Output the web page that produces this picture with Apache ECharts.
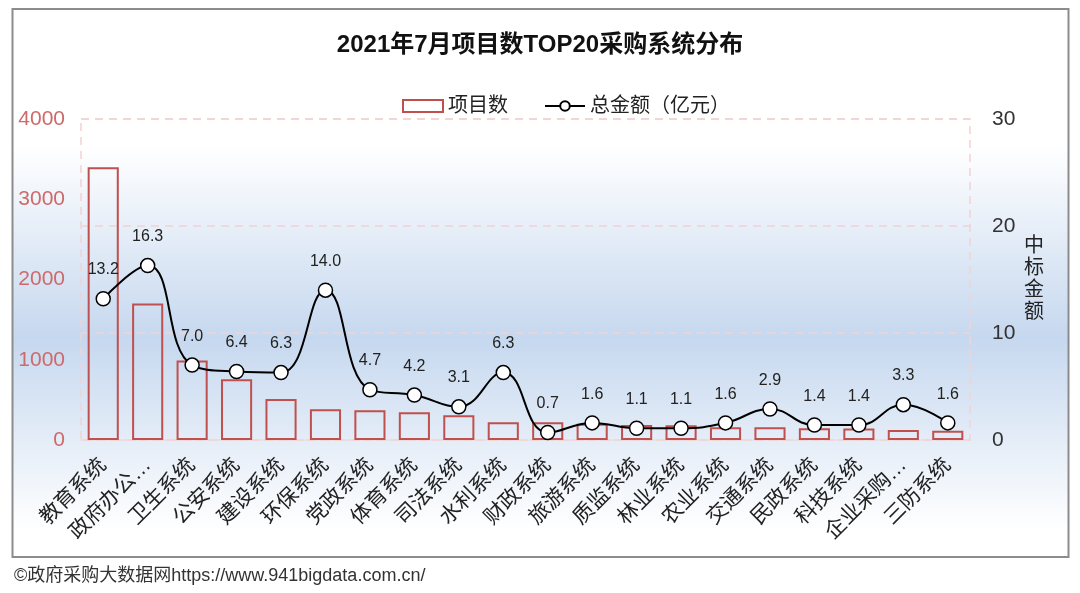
<!DOCTYPE html>
<html>
<head>
<meta charset="utf-8">
<script src="https://cdn.jsdelivr.net/npm/echarts@6/dist/echarts.min.js"></script>
<style>
  html, body { margin: 0; padding: 0; background: #fff; }
  #chart_one { width: 1080px; height: 593px; }
</style>
</head>
<body>
<div id="chart_one"></div>
<script>
var systems = ['教育系统', '政府办公…', '卫生系统', '公安系统', '建设系统', '环保系统', '党政系统', '体育系统', '司法系统', '水利系统',
  '财政系统', '旅游系统', '质监系统', '林业系统', '农业系统', '交通系统', '民政系统', '科技系统', '企业采购…', '三防系统'];
var projectCount = [3400, 1700, 990, 756, 511, 383, 370, 345, 308, 220, 220, 203, 186, 185, 158, 158, 145, 142, 125, 116];
var totalAmount = [13.2, 16.3, 7.0, 6.4, 6.3, 14.0, 4.7, 4.2, 3.1, 6.3, 0.7, 1.6, 1.1, 1.1, 1.6, 2.9, 1.4, 1.4, 3.3, 1.6];

var fontFam = "'Liberation Sans', 'Noto Sans CJK SC', sans-serif";
var theDom = document.getElementById('chart_one');
var myChart = echarts.init(theDom);
var option;

option = {
    backgroundColor: '#fff',
    textStyle: { fontFamily: fontFam },
    animation: false,
    title: {
        text: '2021年7月项目数TOP20采购系统分布',
        left: 'center',
        top: 28,
        textStyle: { fontSize: 24, fontWeight: 'bold', color: '#111', fontFamily: fontFam }
    },
    // frame + soft blue band behind the plot
    graphic: [
        {
            type: 'rect',
            z: -10,
            shape: { x: 12.5, y: 9, width: 1056, height: 548 },
            style: {
                stroke: '#8c8c8c',
                lineWidth: 2,
                fill: new echarts.graphic.LinearGradient(0, 0, 0, 1, [
                    { offset: 0, color: '#ffffff' },
                    { offset: 0.25, color: '#ffffff' },
                    { offset: 0.6, color: '#c6d8ef' },
                    { offset: 0.95, color: '#ffffff' },
                    { offset: 1, color: '#ffffff' }
                ])
            }
        },
        {
            type: 'text',
            left: 14,
            top: 567,
            style: {
                text: '©政府采购大数据网https://www.941bigdata.com.cn/',
                fontSize: 18,
                fill: '#333',
                fontFamily: fontFam
            }
        }
    ],
    legend: {
        left: 397,
        top: 91,
        itemWidth: 40,
        itemHeight: 12,
        itemGap: 36,
        textStyle: { fontSize: 20, color: '#222', fontFamily: fontFam },
        data: [
            { name: '项目数', icon: 'rect' },
            { name: '总金额（亿元）' }
        ]
    },
    grid: {
        left: 81,
        right: 110,
        top: 119,
        bottom: 153,
        show: true,
        borderColor: '#f2d2d2',
        borderWidth: 1.5,
        borderType: [8, 6]
    },
    xAxis: [
        {
            type: 'category',
            data: systems,
            axisLine: { show: false },
            axisTick: { show: false },
            axisLabel: {
                interval: 0,
                rotate: 45,
                margin: 22,
                fontSize: 21,
                color: '#222',
                fontFamily: fontFam
            }
        }
    ],
    yAxis: [
        {
            type: 'value',
            min: 0,
            max: 4000,
            interval: 1000,
            axisLine: { show: false },
            axisTick: { show: false },
            splitLine: { show: false },
            axisLabel: {
                fontSize: 21, color: '#cd6a6a', margin: 16, fontFamily: fontFam,
                formatter: function (v) { return String(v); }
            }
        },
        {
            type: 'value',
            min: 0,
            max: 30,
            interval: 10,
            name: '中\n标\n金\n额',
            nameLocation: 'middle',
            nameRotate: 0,
            nameGap: 54,
            nameTextStyle: { fontSize: 20, color: '#222', lineHeight: 22, fontFamily: fontFam },
            axisLine: { show: false },
            axisTick: { show: false },
            splitLine: { show: true, lineStyle: { color: '#f2d2d2', width: 1.5, type: [8, 6] } },
            axisLabel: { fontSize: 21, color: '#333', margin: 22, fontFamily: fontFam }
        }
    ],
    series: [
        {
            name: '项目数',
            type: 'bar',
            barWidth: '70%',
            itemStyle: {
                color: 'rgba(255,255,255,0)',
                borderColor: '#c0504d',
                borderWidth: 2
            },
            data: projectCount
        },
        {
            name: '总金额（亿元）',
            type: 'line',
            yAxisIndex: 1,
            smooth: 0.45,
            symbol: 'circle',
            symbolSize: 14,
            lineStyle: { color: '#000', width: 2 },
            itemStyle: { color: '#fff', borderColor: '#000', borderWidth: 1.5 },
            label: {
                show: true,
                position: 'top',
                distance: 13,
                fontSize: 16,
                color: '#222',
                fontFamily: fontFam,
                formatter: function (p) { return p.value.toFixed(1); }
            },
            z: 3,
            data: totalAmount
        }
    ]
};

myChart.setOption(option);
window.onresize = function() {
  myChart.resize();
};
</script>
</body>
</html>
